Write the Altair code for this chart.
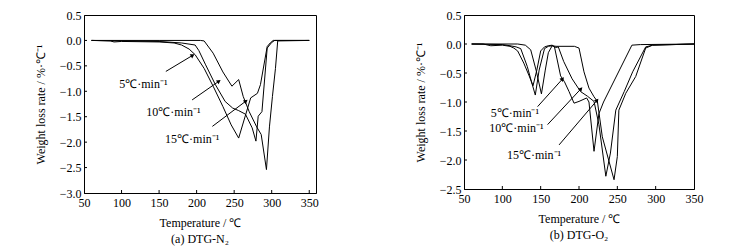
import math
import altair as alt
import pandas as pd

FONT = "Liberation Serif"
RATES = ["5", "10", "15"]

# ---------------- (a) DTG-N2 ----------------
n2_t5 = [60, 85, 90, 100, 150, 170, 180, 190, 198, 210, 222, 235, 246, 256, 272, 281, 285, 294, 298, 302, 350]
n2_v5 = [0, -0.01, -0.03, -0.02, -0.03, -0.05, -0.09, -0.17, -0.28, -0.55, -0.90, -1.30, -1.66, -1.92, -1.13, -1.04, -0.87, -0.12, -0.05, 0, 0]
n2_t10 = [60, 100, 150, 180, 198, 203, 212, 225, 238, 248, 256, 265, 274, 279, 282, 287, 294, 300, 304, 350]
n2_v10 = [0, -0.01, -0.02, -0.05, -0.09, -0.20, -0.48, -0.87, -1.20, -1.33, -1.38, -1.45, -1.72, -1.98, -1.49, -1.40, -0.15, -0.04, 0, 0]
n2_t15 = [60, 150, 205, 210, 222, 235, 247, 256, 262, 270, 280, 286, 293, 297, 301, 305, 308, 350]
n2_v15 = [0, 0, 0, -0.01, -0.25, -0.62, -0.90, -0.77, -1.10, -1.40, -1.70, -1.85, -2.54, -1.70, -1.10, -0.55, -0.01, 0]

# ---------------- (b) DTG-O2 ----------------
o2_t5 = [60, 75, 85, 100, 110, 115, 120, 128, 135, 140, 145, 150, 155, 160, 165, 168, 176, 181, 187, 193.5, 200, 210, 213, 219.6, 226, 232, 269, 280, 350]
o2_v5 = [0, 0, -0.03, -0.02, -0.04, -0.07, -0.12, -0.33, -0.55, -0.72, -0.45, -0.12, -0.05, -0.03, -0.02, -0.05, -0.55, -0.65, -0.82, -1.02, -0.99, -0.93, -1.00, -1.85, -1.20, -1.00, -0.02, -0.01, 0]
o2_t10 = [60, 100, 110, 118, 124, 132.6, 138, 143, 148, 155, 160, 165, 170, 173, 180, 191, 202, 211, 219.6, 226, 235, 241, 248, 259, 270, 287, 296, 350]
o2_v10 = [0, -0.01, -0.03, -0.05, -0.08, -0.39, -0.65, -0.88, -0.45, -0.08, -0.04, -0.03, -0.06, -0.05, -0.30, -0.60, -0.82, -0.90, -0.99, -1.39, -2.28, -1.88, -1.14, -0.82, -0.48, -0.05, -0.02, 0]
o2_t15 = [60, 120, 130, 137, 144, 151, 156, 160, 165, 170, 194, 200, 206.5, 213, 219.6, 224, 230.4, 245.7, 250, 252, 261, 274, 287, 296, 350]
o2_v15 = [0, 0, -0.02, -0.10, -0.45, -0.86, -0.45, -0.15, -0.03, -0.04, -0.04, -0.07, -0.48, -0.76, -0.91, -0.99, -1.60, -2.34, -1.94, -1.14, -0.85, -0.56, -0.07, -0.02, 0]

LABELS = ["5℃·min⁻¹", "10℃·min⁻¹", "15℃·min⁻¹"]
n2_text_t = [97, 133, 158]
n2_text_v = [-0.85, -1.40, -1.93]
n2_arrow = [(159, -0.61, 194, -0.30), (194, -1.17, 229, -0.81), (221, -1.69, 265, -1.20)]
o2_text_t = [85, 83, 106]
o2_text_v = [-1.19, -1.45, -1.91]
o2_arrow = [(146, -1.08, 178, -0.61), (159, -1.39, 202, -0.78), (174, -1.74, 223, -0.98)]

X_TICKS = [50, 100, 150, 200, 250, 300, 350]


def panel(series, xdom, ydom, yvals, width, height, title, text_t, text_v, arrows):
    rows = []
    for rate, (ts, vs) in zip(RATES, series):
        for t, v in zip(ts, vs):
            rows.append({"T": t, "v": v, "rate": rate})
    df = pd.DataFrame(rows)
    xs = alt.Scale(domain=xdom, nice=False, zero=False)
    ys = alt.Scale(domain=ydom, nice=False, zero=False)
    common = dict(labelFont=FONT, labelFontSize=12, labelColor="black",
                  titleFont=FONT, titleFontSize=12, titleFontWeight="normal",
                  titleColor="black", labelFlush=False, labelOverlap=False,
                  ticks=False, tickSize=0, domainColor="black", grid=False)
    xa = alt.Axis(values=X_TICKS, format="d", labelPadding=4, titlePadding=9, **common)
    ya = alt.Axis(values=yvals, format=".1f", labelPadding=3, titlePadding=12, **common)
    XT = "Temperature /  ℃"
    YT = "Weight loss rate / %·℃⁻¹"

    def X(f):
        return alt.X(f, scale=xs, axis=xa, title=XT)

    def Y(f):
        return alt.Y(f, scale=ys, axis=ya, title=YT)

    lines = alt.Chart(df).mark_line(color="black", strokeWidth=1).encode(
        x=X("T:Q"), y=Y("v:Q"), detail="rate:N")

    xt = alt.Chart(pd.DataFrame({"T": [t for t in X_TICKS if xdom[0] < t < xdom[1]]})).mark_rule(
        color="black", strokeWidth=1).encode(
        x=X("T:Q"), y=alt.value(height), y2=alt.value(height - 3))
    yt = alt.Chart(pd.DataFrame({"v": [y for y in yvals if ydom[0] < y < ydom[1]]})).mark_rule(
        color="black", strokeWidth=1).encode(
        y=Y("v:Q"), x=alt.value(0), x2=alt.value(3))

    tdf = pd.DataFrame({"T": text_t, "v": text_v, "label": LABELS})
    texts = alt.Chart(tdf).mark_text(align="left", baseline="middle", font=FONT,
                                     fontSize=12, color="black").encode(
        x=X("T:Q"), y=Y("v:Q"), text="label:N")

    sx = width / (xdom[1] - xdom[0])
    sy = height / (ydom[1] - ydom[0])
    adf = pd.DataFrame({
        "T": [a[0] for a in arrows], "v": [a[1] for a in arrows],
        "T2": [a[2] for a in arrows], "v2": [a[3] for a in arrows],
        "ang": [math.degrees(math.atan2((a[2] - a[0]) * sx, (a[3] - a[1]) * sy)) % 360 for a in arrows],
    })
    shafts = alt.Chart(adf).mark_rule(color="black", strokeWidth=1).encode(
        x=X("T:Q"), y=Y("v:Q"), x2="T2:Q", y2="v2:Q")
    heads = alt.Chart(adf).mark_point(shape="triangle", filled=True, color="black",
                                      size=22, opacity=1).encode(
        x=X("T2:Q"), y=Y("v2:Q"), angle=alt.Angle("ang:Q", scale=None))

    return alt.layer(lines, xt, yt, texts, shafts, heads).properties(
        width=width, height=height,
        title=alt.TitleParams(title, orient="bottom", font=FONT, fontSize=12,
                              fontWeight="normal", color="black", offset=6))


left = panel([(n2_t5, n2_v5), (n2_t10, n2_v10), (n2_t15, n2_v15)],
             [50, 359], [-3.0, 0.5], [-3.0, -2.5, -2.0, -1.5, -1.0, -0.5, 0.0, 0.5],
             232, 178, "(a) DTG-N₂", n2_text_t, n2_text_v, n2_arrow)
right = panel([(o2_t5, o2_v5), (o2_t10, o2_v10), (o2_t15, o2_v15)],
              [50, 350], [-2.5, 0.5], [-2.5, -2.0, -1.5, -1.0, -0.5, 0.0, 0.5],
              230, 174, "(b) DTG-O₂", o2_text_t, o2_text_v, o2_arrow)

chart = alt.hconcat(left, right, spacing=148, bounds="flush").properties(
    padding={"left": 25, "top": 0, "right": 5, "bottom": 0}, background="white"
).configure_view(stroke="black", strokeWidth=1)

chart.save("out.html", embed_options={"renderer": "svg", "actions": False})
